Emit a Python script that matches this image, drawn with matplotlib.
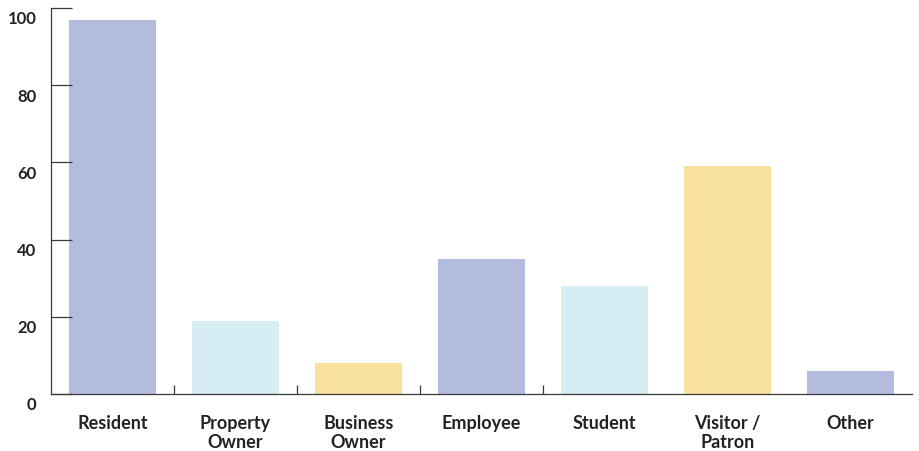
import matplotlib
matplotlib.use("Agg")
import matplotlib.pyplot as plt
from matplotlib.transforms import ScaledTranslation

categories = ["Resident", "Property\nOwner", "Business\nOwner", "Employee", "Student", "Visitor /\nPatron", "Other"]
values = [97, 19, 8, 35, 28, 59, 6]
colors = ["#b3bbdf", "#d5edf3", "#f8e09d", "#b3bbdf", "#d5edf3", "#f8e09d", "#b3bbdf"]
yticks = [0, 20, 40, 60, 80, 100]
divider_ticks = [0.5, 1.5, 2.5, 3.5]

W, H = 920, 452
fig = plt.figure(figsize=(W / 100, H / 100), dpi=100)
ax = fig.add_axes([51 / W, (H - 395) / H, (912 - 51) / W, (395 - 9) / H])

x = list(range(len(categories)))
ax.bar(x, values, width=0.715, color=colors, zorder=1)

ax.set_xlim(-0.5, 6.5)
ax.set_ylim(0, 100)

for s in ["top", "right"]:
    ax.spines[s].set_visible(False)
for s in ["left", "bottom"]:
    ax.spines[s].set_color("#3a3a3a")
    ax.spines[s].set_linewidth(0.9)
    ax.spines[s].set_zorder(3)

font = "Lato"
ax.set_yticks(yticks)
ax.set_yticklabels([str(v) for v in yticks], fontfamily=font, fontweight="bold", fontsize=12, color="#222222")
ax.tick_params(axis="y", direction="in", length=15, width=0.9, color="#3a3a3a", pad=10.5)
offset = ScaledTranslation(0, -9 / 100, fig.dpi_scale_trans)
for lab in ax.get_yticklabels():
    lab.set_transform(lab.get_transform() + offset)

ax.set_xticks(divider_ticks)
ax.set_xticklabels([])
ax.tick_params(axis="x", which="major", direction="in", length=6.5, width=0.9, color="#3a3a3a")
ax.set_xticks(x, minor=True)
ax.set_xticklabels(categories, minor=True, fontfamily=font, fontweight="bold", fontsize=13, color="#222222", linespacing=1.12)
ax.tick_params(axis="x", which="minor", length=0, pad=14.5)

fig.savefig("out.png", dpi=100, facecolor="white")
